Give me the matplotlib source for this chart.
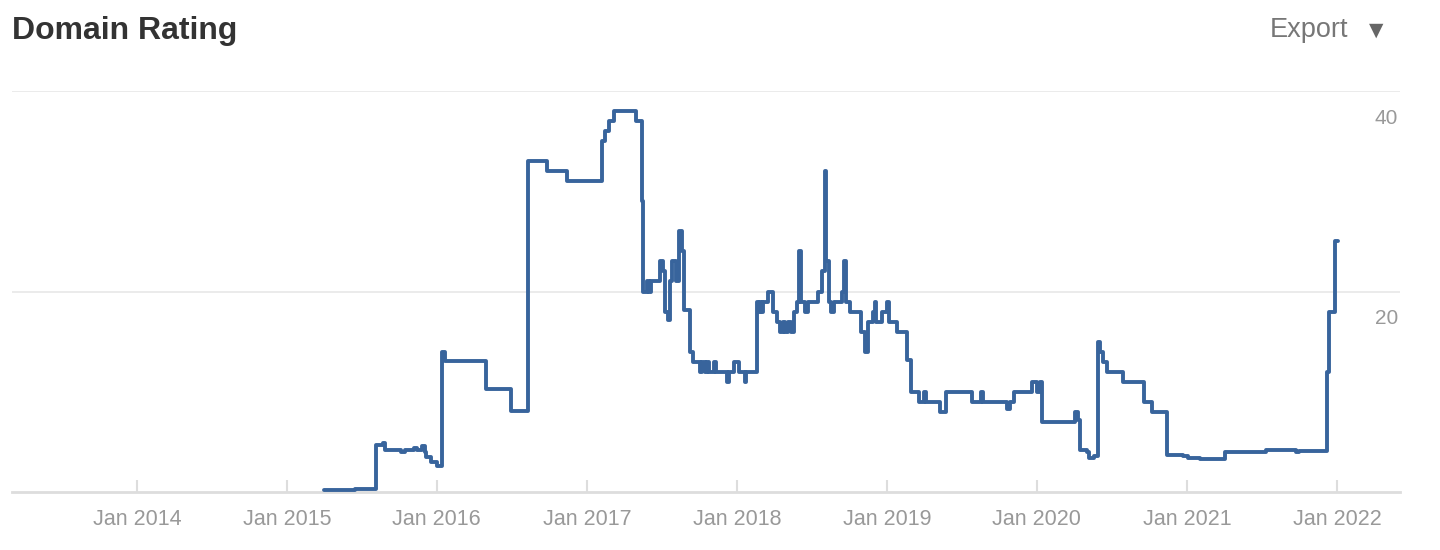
import matplotlib
matplotlib.use("Agg")
import matplotlib.pyplot as plt
import matplotlib.dates as mdates
import pandas as pd

title = "Domain Rating"
export_label = "Export"

dates = [
    "2015-04-02", "2015-06-15", "2015-08-07", "2015-08-22", "2015-08-29", "2015-10-05",
    "2015-10-15", "2015-11-06", "2015-11-15", "2015-11-27", "2015-12-03", "2015-12-07",
    "2015-12-19", "2016-01-01", "2016-01-13", "2016-01-20", "2016-05-01", "2016-07-01",
    "2016-08-10", "2016-09-25", "2016-11-13", "2017-02-06", "2017-02-13", "2017-02-23",
    "2017-03-07", "2017-05-01", "2017-05-14", "2017-05-18", "2017-05-26", "2017-06-01",
    "2017-06-06", "2017-06-27", "2017-07-04", "2017-07-10", "2017-07-16", "2017-07-22",
    "2017-07-26", "2017-08-05", "2017-08-12", "2017-08-20", "2017-08-26", "2017-09-08",
    "2017-09-15", "2017-10-02", "2017-10-08", "2017-10-14", "2017-10-20", "2017-10-26",
    "2017-11-05", "2017-11-10", "2017-12-07", "2017-12-12", "2017-12-25", "2018-01-05",
    "2018-01-20", "2018-01-24", "2018-02-18", "2018-02-22", "2018-02-26", "2018-03-02",
    "2018-03-06", "2018-03-17", "2018-03-29", "2018-04-08", "2018-04-15", "2018-04-22",
    "2018-04-29", "2018-05-06", "2018-05-13", "2018-05-20", "2018-05-26", "2018-06-02",
    "2018-06-06", "2018-06-16", "2018-06-24", "2018-07-16", "2018-07-26", "2018-08-02",
    "2018-08-06", "2018-08-12", "2018-08-19", "2018-08-26", "2018-09-13", "2018-09-18",
    "2018-09-24", "2018-10-02", "2018-10-31", "2018-11-08", "2018-11-16", "2018-11-28",
    "2018-12-02", "2018-12-06", "2018-12-20", "2019-01-02", "2019-01-06", "2019-01-25",
    "2019-02-18", "2019-02-28", "2019-03-21", "2019-04-01", "2019-04-06", "2019-05-10",
    "2019-05-24", "2019-07-26", "2019-08-17", "2019-08-24", "2019-10-21", "2019-10-28",
    "2019-11-07", "2019-12-21", "2020-01-01", "2020-01-08", "2020-01-13", "2020-04-02",
    "2020-04-10", "2020-04-15", "2020-05-02", "2020-05-08", "2020-05-20", "2020-05-28",
    "2020-06-03", "2020-06-10", "2020-06-20", "2020-07-28", "2020-09-17", "2020-10-07",
    "2020-11-13", "2020-12-21", "2021-01-03", "2021-02-01", "2021-04-02", "2021-07-13",
    "2021-09-22", "2021-09-30", "2021-12-08", "2021-12-13", "2021-12-26", "2022-01-02",
]
values = [
    0.2, 0.3, 4.7, 4.9, 4.2, 4.0,
    4.2, 4.4, 4.2, 4.6, 4.0, 3.5,
    3.0, 2.6, 14.0, 13.1, 10.3, 8.1,
    33.0, 32.0, 31.0, 35.0, 36.0, 37.0,
    38.0, 37.0, 29.0, 20.0, 21.0, 20.0,
    21.0, 23.0, 22.0, 18.0, 17.2, 21.0,
    23.0, 21.0, 26.0, 24.0, 18.2, 14.0,
    13.0, 12.0, 13.0, 12.0, 13.0, 12.0,
    13.0, 12.0, 11.0, 12.0, 13.0, 12.0,
    11.0, 12.0, 19.0, 18.0, 19.0, 18.0,
    19.0, 20.0, 18.0, 17.0, 16.0, 17.0,
    16.0, 17.0, 16.0, 18.0, 19.0, 24.0,
    19.0, 18.0, 19.0, 20.0, 22.0, 32.0,
    23.0, 19.0, 18.0, 19.0, 20.0, 23.0,
    19.0, 18.0, 16.0, 14.0, 17.0, 18.0,
    19.0, 17.0, 18.0, 19.0, 17.0, 16.0,
    13.2, 10.0, 9.0, 10.0, 9.0, 8.0,
    10.0, 9.0, 10.0, 9.0, 8.3, 9.0,
    10.0, 11.0, 10.0, 11.0, 7.0, 8.0,
    7.2, 4.2, 4.0, 3.4, 3.6, 15.0,
    14.0, 13.0, 12.0, 11.0, 9.0, 8.0,
    3.7, 3.6, 3.4, 3.3, 4.0, 4.2,
    4.0, 4.1, 12.0, 18.0, 25.0, 25.0,
]
year_ticks = [2014, 2015, 2016, 2017, 2018, 2019, 2020, 2021, 2022]
y_ticks = [20, 40]

x = pd.to_datetime(dates)

fig = plt.figure(figsize=(14.4, 5.5), dpi=100)
ax = fig.add_axes([12 / 1440, 1 - 492 / 550, (1400 - 12) / 1440, (492 - 91) / 550])

ax.plot(x, values, drawstyle="steps-post", color="#38649c", lw=2.8,
        solid_joinstyle="round", solid_capstyle="round", clip_on=False, zorder=3)

ax.set_xlim(pd.Timestamp("2013-03-03"), pd.Timestamp("2022-06-03"))
ax.set_ylim(0, 40)

for s in ["top", "left", "right"]:
    ax.spines[s].set_visible(False)
ax.spines["bottom"].set_color("#dddddd")
ax.spines["bottom"].set_linewidth(2)

for v in y_ticks:
    ax.axhline(v, color="#e8e8e8", lw=1.2, zorder=1)
    ax.annotate(str(v), xy=(1, v), xycoords=("axes fraction", "data"),
                xytext=(-1.5, -19.5), textcoords="offset points",
                ha="right", va="center", fontsize=15, color="#999999",
                family="Liberation Sans")
ax.set_yticks([])

tick_pos = [pd.Timestamp(f"{yv}-01-01") for yv in year_ticks]
ax.set_xticks(tick_pos)
ax.set_xticklabels([f"Jan {yv}" for yv in year_ticks])
ax.tick_params(axis="x", direction="in", length=9, width=1.5, color="#dddddd",
               pad=12, labelsize=15.5, labelcolor="#999999")
for lab in ax.get_xticklabels():
    lab.set_family("Liberation Sans")

fig.text(12 / 1440, 1 - 31 / 550, title, fontsize=23, fontweight="bold",
         color="#333333", ha="left", va="center", family="Liberation Sans")
fig.text(1348 / 1440, 1 - 30 / 550, export_label, fontsize=19.5, color="#777777",
         ha="right", va="center", family="Liberation Sans")
fig.text(1376 / 1440, 1 - 30 / 550, "\u25BC", fontsize=13.5, color="#666666",
         ha="center", va="center", family="DejaVu Sans")

fig.savefig("out.png", dpi=100, facecolor="white")
